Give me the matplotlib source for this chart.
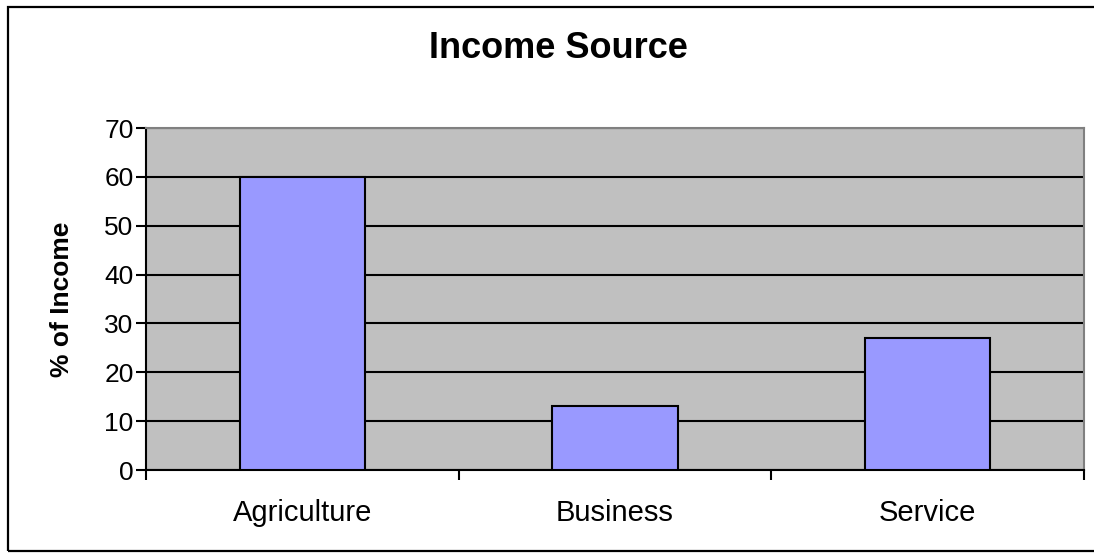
import matplotlib
matplotlib.use("Agg")
import matplotlib.pyplot as plt
from matplotlib.patches import Rectangle
import numpy as np

categories = ["Agriculture", "Business", "Service"]
values = [60, 13, 27]
yticks = [0, 10, 20, 30, 40, 50, 60, 70]

plt.rcParams['font.family'] = ['Liberation Sans', 'DejaVu Sans']

fig = plt.figure(figsize=(10.94, 5.53), dpi=100)
# outer chart border (right edge runs off the picture)
fig.patches.append(Rectangle((7.5/1094, 2/553), 1100/1094, 544.5/553, transform=fig.transFigure,
                             fill=False, edgecolor='black', linewidth=1.6))

ax = fig.add_axes([146/1094, 83/553, 938/1094, 342/553])
ax.set_facecolor('#C0C0C0')

x = np.arange(len(categories))
ax.bar(x, values, width=0.4, color='#9999FF', edgecolor='black', linewidth=1.5, zorder=3)

ax.set_xlim(-0.5, len(categories) - 0.5)
ax.set_ylim(0, 70)
ax.set_yticks(yticks)
ax.yaxis.grid(True, color='black', linewidth=1.5, zorder=1)
ax.set_axisbelow(True)

# category ticks sit on the boundaries, labels at centres
ax.set_xticks(np.arange(-0.5, len(categories)), minor=False)
ax.set_xticklabels([])
ax.set_xticks(x, minor=True)
ax.set_xticklabels(categories, minor=True)
ax.tick_params(axis='x', which='major', direction='out', length=7, width=1.5, color='black')
ax.tick_params(axis='x', which='minor', length=0, pad=21, labelsize=21)
ax.tick_params(axis='y', direction='out', length=7, width=1.5, labelsize=19, pad=2)

for side in ['left', 'bottom']:
    ax.spines[side].set_color('black')
    ax.spines[side].set_linewidth(1.5)
for side in ['top', 'right']:
    ax.spines[side].set_color('#808080')
    ax.spines[side].set_linewidth(1.5)

ax.set_ylabel('% of Income', fontsize=19, fontweight='bold', labelpad=22)
fig.text(558/1094, 1 - 49/553, 'Income Source', ha='center', va='center',
         fontsize=26, fontweight='bold')

fig.savefig('out.png', dpi=100)
